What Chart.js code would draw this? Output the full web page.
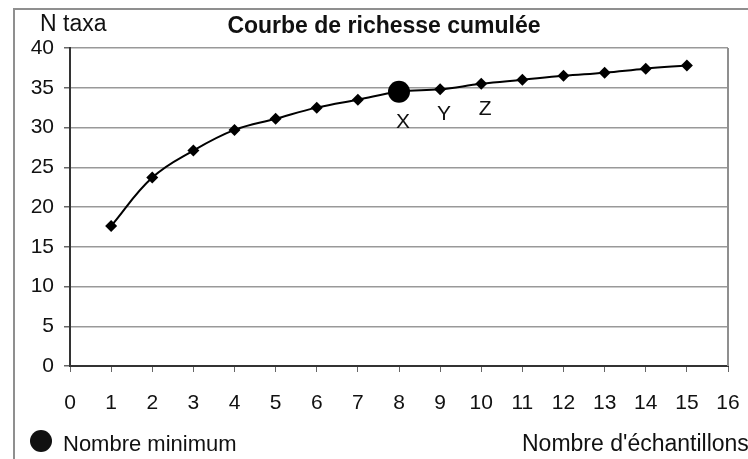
<!DOCTYPE html>
<html>
<head>
<meta charset="utf-8">
<script src="https://cdn.jsdelivr.net/npm/chart.js@4"></script>
<style>
  body { margin: 0; background: #fff; }
</style>
</head>
<body>
<canvas id="myChart" width="748" height="459"></canvas>
<script>
const samples = [1, 2, 3, 4, 5, 6, 7, 8, 9, 10, 11, 12, 13, 14, 15];
const taxa = [17.6, 23.7, 27.1, 29.7, 31.1, 32.5, 33.5, 34.5, 34.8, 35.5, 36.0, 36.5, 36.9, 37.4, 37.8];
const minimumSample = 8;
const pointNames = ['X', 'Y', 'Z'];
const namedSamples = [8, 9, 10];

const chartTitle = 'Courbe de richesse cumulée';
const yTitle = 'N taxa';
const xTitle = "Nombre d'échantillons";
const legendText = 'Nombre minimum';

const font = "'Liberation Sans', Arial, sans-serif";

const points = samples.map((s, i) => ({ x: s, y: taxa[i] }));
const styles = samples.map(s => s === minimumSample ? 'circle' : 'rectRot');
const radii = samples.map(s => s === minimumSample ? 11 : 6);

const decorations = {
  id: 'decorations',
  afterDraw(chart) {
    const ctx = chart.ctx;
    const area = chart.chartArea;
    const xs = chart.scales.x;
    const ys = chart.scales.y;
    ctx.save();

    // outer frame
    ctx.strokeStyle = '#8f8f8f';
    ctx.lineWidth = 2;
    ctx.beginPath();
    ctx.moveTo(14, 470);
    ctx.lineTo(14, 9);
    ctx.lineTo(760, 9);
    ctx.stroke();

    // right side of the plot
    ctx.beginPath();
    ctx.moveTo(area.right, area.top);
    ctx.lineTo(area.right, area.bottom);
    ctx.stroke();

    ctx.fillStyle = '#111';
    ctx.textBaseline = 'middle';

    ctx.font = 'bold 23px ' + font;
    ctx.textAlign = 'center';
    ctx.fillText(chartTitle, 384, 27);

    ctx.font = '23px ' + font;
    ctx.textAlign = 'left';
    ctx.fillText(yTitle, 40, 25);

    // X Y Z names under their points
    ctx.font = '21px ' + font;
    ctx.textAlign = 'center';
    namedSamples.forEach((s, i) => {
      const idx = samples.indexOf(s);
      const px = xs.getPixelForValue(s);
      const py = ys.getPixelForValue(taxa[idx]);
      ctx.fillText(pointNames[i], px + 4, py + radii[idx] + 19);
    });

    // legend + axis title at bottom
    ctx.beginPath();
    ctx.arc(41, 441, 11, 0, Math.PI * 2);
    ctx.fill();
    ctx.font = '22px ' + font;
    ctx.textAlign = 'left';
    ctx.fillText(legendText, 63, 445);
    ctx.font = '23px ' + font;
    ctx.fillText(xTitle, 522, 445);

    ctx.restore();
  }
};

new Chart(document.getElementById('myChart'), {
  type: 'line',
  data: {
    datasets: [{
      data: points,
      borderColor: '#000',
      borderWidth: 2,
      backgroundColor: '#000',
      pointStyle: styles,
      pointRadius: radii,
      pointBorderWidth: 0,
      tension: 0.4,
      fill: false
    }]
  },
  options: {
    responsive: false,
    animation: false,
    layout: { padding: { top: 48, right: 20, left: 0, bottom: 0 } },
    plugins: { legend: { display: false }, tooltip: { enabled: false } },
    scales: {
      x: {
        type: 'linear',
        min: 0,
        max: 16,
        afterFit: s => { s.height = 93; s.paddingRight = 0; s.paddingLeft = 0; },
        ticks: { stepSize: 1, color: '#111', font: { size: 21, family: font }, padding: 19, maxRotation: 0 },
        grid: { drawOnChartArea: false, tickLength: 6, tickColor: '#666' },
        border: { color: '#333', width: 2 }
      },
      y: {
        min: 0,
        max: 40,
        afterFit: s => { s.width = 70; s.paddingTop = 0; s.paddingBottom = 0; },
        ticks: { stepSize: 5, color: '#111', font: { size: 21, family: font }, padding: 10 },
        grid: { color: '#999', lineWidth: 1.5, tickLength: 6, tickColor: '#666' },
        border: { color: '#333', width: 2 }
      }
    }
  },
  plugins: [decorations]
});
</script>
</body>
</html>
